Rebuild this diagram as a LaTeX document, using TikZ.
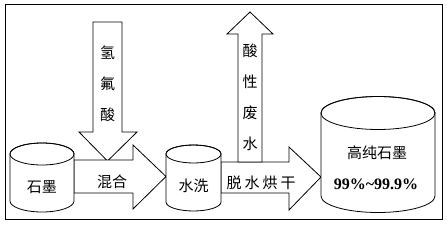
\documentclass[tikz,border=0pt]{standalone}
\usepackage{fontspec}
\setmainfont{Liberation Serif}
\newfontfamily\cjk{Noto Sans CJK SC}
\usetikzlibrary{positioning}

\tikzset{
  outline/.style={draw=black, line width=0.8pt, fill=white, line join=miter},
  lbl/.style={font=\cjk\fontsize{15}{15}\selectfont, inner sep=0pt},
  vlbl/.style={font=\cjk\fontsize{15}{31}\selectfont, align=center, inner sep=0pt},
}

\begin{document}
\begin{tikzpicture}[x=1pt, y=1pt]
  \useasboundingbox (0,0) rectangle (447,226);
  \draw[line width=0.9pt] (5,7) rectangle (442,222);
  % HF, down
  \draw[outline] (93,204) -- (122,204) -- (122,94) -- (137,94) -- (107.5,65)
    -- (79,94) -- (93,94) -- cycle;
  % mixing
  \draw[outline] (74,66) -- (133,66) -- (133,81) -- (166,49.5) -- (133,17)
    -- (133,33) -- (74,33) -- cycle;
  % drying
  \draw[outline] (221,64) -- (289,64) -- (289,79) -- (321,49) -- (289,16)
    -- (289,33) -- (221,33) -- cycle;
  % acid waste water, up
  \draw[outline] (238,64) -- (238,192) -- (227,192) -- (250,214) -- (273,192)
    -- (262,192) -- (262,64) -- cycle;
  % drums
  \foreach \cx/\rx/\ty/\ry/\by in {42/32/72/11/25, 193.5/27.5/72/9/24, 378/57/113/16.5/30}{
    \draw[outline] (\cx-\rx,\ty) -- (\cx-\rx,\by)
      arc[start angle=180, end angle=360, x radius=\rx, y radius=\ry]
      -- (\cx+\rx,\ty)
      arc[start angle=0, end angle=180, x radius=\rx, y radius=\ry] -- cycle;
    \draw[line width=0.8pt] (\cx,\ty) ellipse[x radius=\rx, y radius=\ry];
  }
  % Labels
  \node[vlbl] (hf) at (107.5,142) {氢\\氟\\酸};
  \node[vlbl] (waste) at (250,128.5) {酸\\性\\废\\水};
  \node[lbl] (mix) at (112,44) {混合};
  \node[lbl] (graphite) at (42,39) {石墨};
  \node[lbl] (wash) at (193.5,40) {水洗};
  \node[lbl] (dry) at (261,43) {脱\hspace{3pt}水\hspace{3pt}烘\hspace{3pt}干};
  \node[lbl] (pure) at (377,73) {高纯石墨};
  \node[font=\bfseries\fontsize{16}{16}\selectfont, inner sep=0pt] (purity)
    at (376,42) {99\%\textasciitilde99.9\%};
\end{tikzpicture}
\end{document}
